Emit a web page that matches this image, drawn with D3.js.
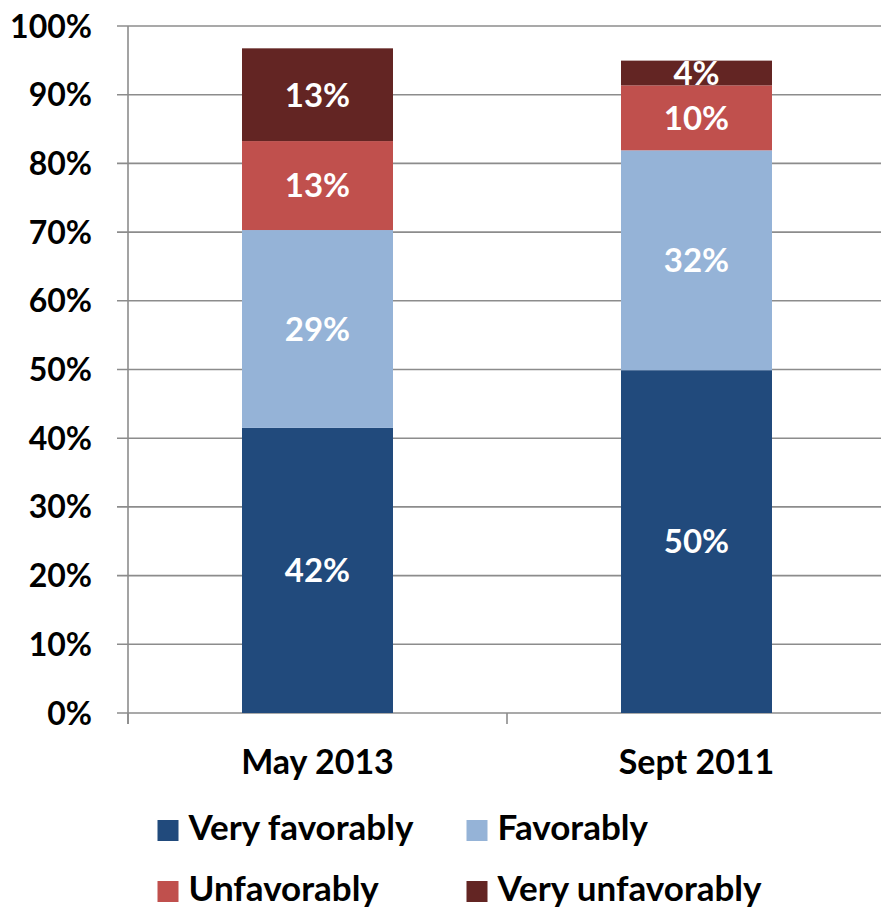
<!DOCTYPE html>
<html><head><meta charset="utf-8">
<script src="https://cdn.jsdelivr.net/npm/d3@7"></script>
<style>body{margin:0;background:#fff}svg{display:block}text{font-family:Lato,"Open Sans",sans-serif;font-weight:bold}</style>
</head><body>
<svg id="c" width="881" height="908"></svg>
<script>
const categories = ["May 2013", "Sept 2011"];
const seriesNames = ["Very favorably", "Favorably", "Unfavorably", "Very unfavorably"];
const veryFavorably = [41.5, 49.9];
const favorably = [28.8, 32.0];
const unfavorably = [12.95, 9.46];
const veryUnfavorably = [13.5, 3.6];
const labelsVeryFavorably = ["42%", "50%"];
const labelsFavorably = ["29%", "32%"];
const labelsUnfavorably = ["13%", "10%"];
const labelsVeryUnfavorably = ["13%", "4%"];
const yTicks = [0, 10, 20, 30, 40, 50, 60, 70, 80, 90, 100];
const colors = ["#214A7C", "#95B3D7", "#C0504D", "#632523"];

const seriesVals = [veryFavorably, favorably, unfavorably, veryUnfavorably];
const seriesLabels = [labelsVeryFavorably, labelsFavorably, labelsUnfavorably, labelsVeryUnfavorably];

const svg = d3.select("#c");
const x0 = 128, x1 = 886, yBase = 713, yTop = 26;
const x = d3.scaleBand().domain(categories).range([x0, x1]).paddingInner(0.6016).paddingOuter(0.3008);
const y = d3.scaleLinear().domain([0, 100]).range([yBase, yTop]);
const grid = "#8c8c8c";

// gridlines
svg.append("g").selectAll("line").data(yTicks).join("line")
  .attr("x1", 117).attr("x2", 881)
  .attr("y1", d => y(d)).attr("y2", d => y(d))
  .attr("stroke", grid).attr("stroke-width", 1.6);
// y axis line
svg.append("line").attr("x1", x0).attr("x2", x0).attr("y1", y(100)).attr("y2", yBase + 11)
  .attr("stroke", grid).attr("stroke-width", 1.6);
// category ticks
const step = x.step();
const bounds = [x0, x0 + step, x0 + 2 * step];
svg.append("g").selectAll("line").data(bounds).join("line")
  .attr("x1", d => d).attr("x2", d => d).attr("y1", yBase).attr("y2", yBase + 11)
  .attr("stroke", grid).attr("stroke-width", 1.6);

// y tick labels
svg.append("g").selectAll("text").data(yTicks).join("text")
  .attr("x", 92).attr("y", d => y(d)).attr("dy", "0.36em")
  .attr("text-anchor", "end").attr("font-size", 32).attr("fill", "#000")
  .text(d => d + "%");

// stacked data
const rows = categories.map((c, i) => {
  const o = { cat: c };
  seriesNames.forEach((s, j) => o[s] = seriesVals[j][i]);
  return o;
});
const stack = d3.stack().keys(seriesNames)(rows);

const layers = svg.append("g").selectAll("g").data(stack).join("g")
  .attr("fill", (d, i) => colors[i]);
layers.selectAll("rect").data(d => d).join("rect")
  .attr("x", d => x(d.data.cat)).attr("width", x.bandwidth())
  .attr("y", d => y(d[1])).attr("height", d => y(d[0]) - y(d[1]));

// data labels
stack.forEach((layer, j) => {
  svg.append("g").selectAll("text").data(layer).join("text")
    .attr("x", d => x(d.data.cat) + x.bandwidth() / 2)
    .attr("y", d => (y(d[0]) + y(d[1])) / 2).attr("dy", "0.36em")
    .attr("text-anchor", "middle").attr("font-size", 33).attr("fill", "#fff")
    .text((d, i) => seriesLabels[j][i]);
});

// category labels
svg.append("g").selectAll("text").data(categories).join("text")
  .attr("x", d => x(d) + x.bandwidth() / 2).attr("y", 774)
  .attr("text-anchor", "middle").attr("font-size", 34).attr("fill", "#000")
  .text(d => d);

// legend
const legX = [157.5, 466.5], legY = [820, 881];
const leg = svg.append("g").selectAll("g").data(seriesNames).join("g")
  .attr("transform", (d, i) => `translate(${legX[i % 2]},${legY[Math.floor(i / 2)]})`);
leg.append("rect").attr("width", 21).attr("height", 21).attr("fill", (d, i) => colors[i]);
leg.append("text").attr("x", 31).attr("y", 20).attr("font-size", 35).attr("fill", "#000").text(d => d);
</script>
</body></html>
